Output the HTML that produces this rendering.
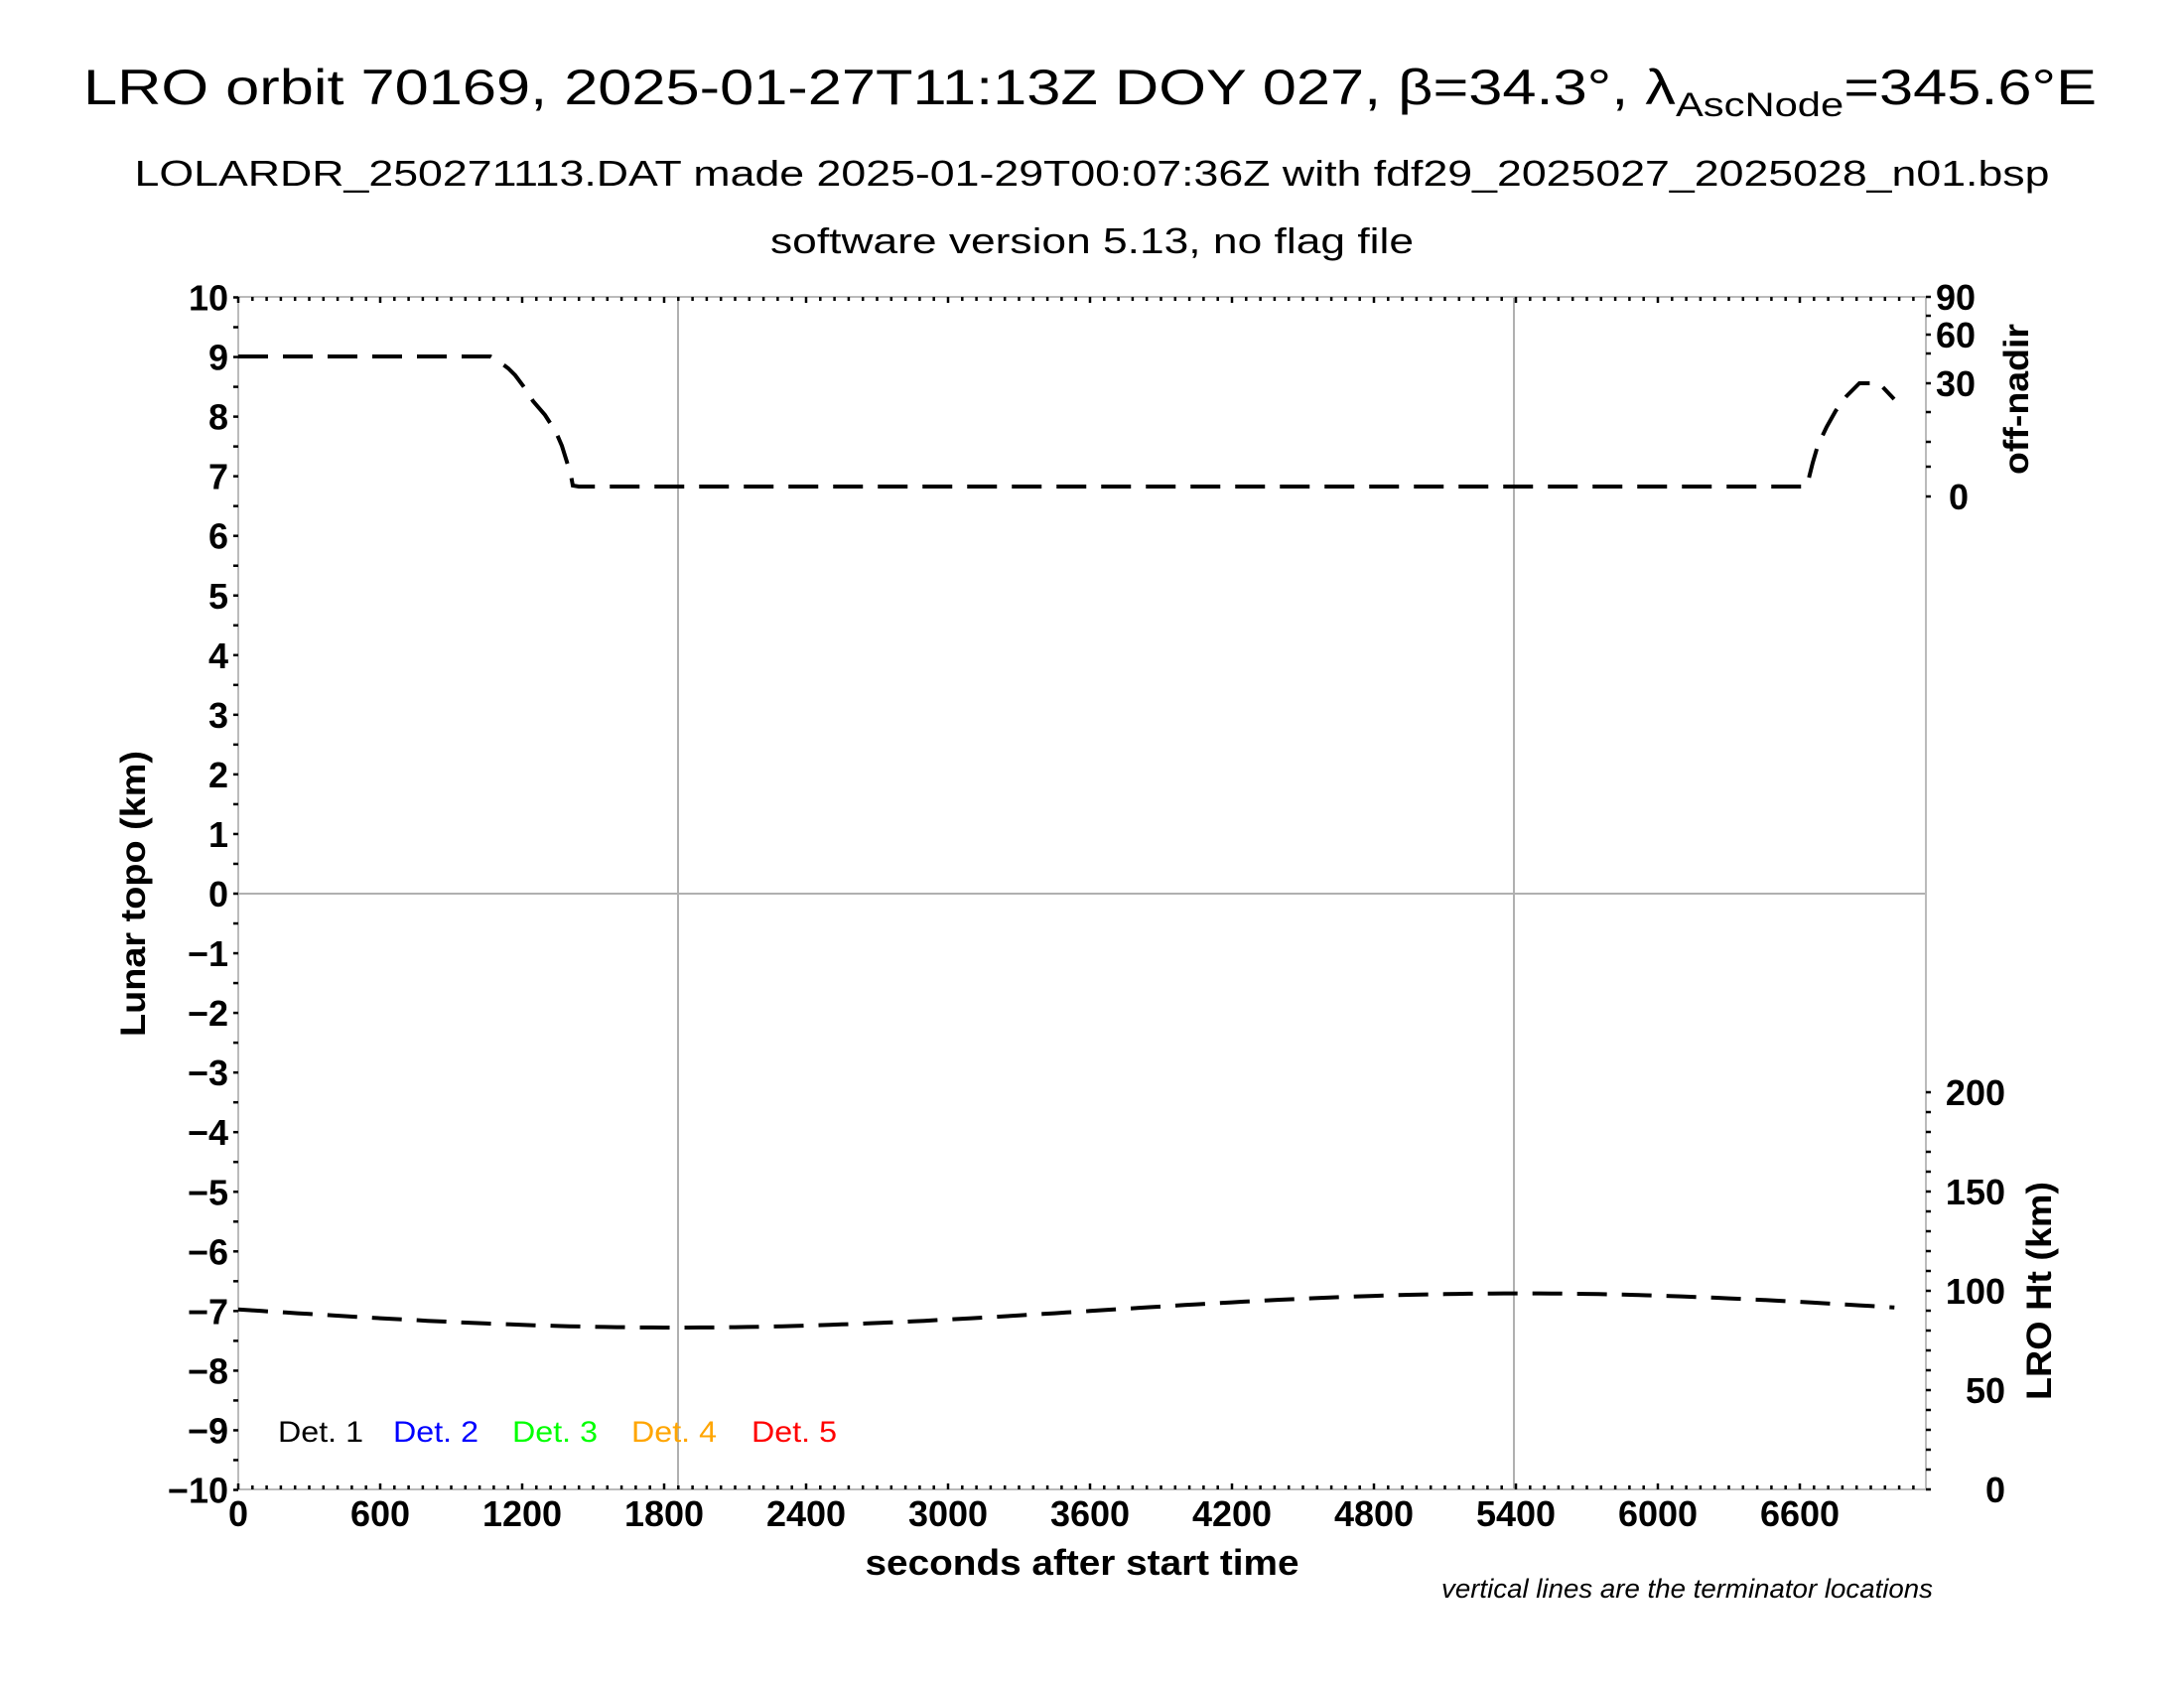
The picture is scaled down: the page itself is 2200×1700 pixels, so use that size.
<!DOCTYPE html>
<html><head><meta charset="utf-8"><style>
html,body{margin:0;padding:0;background:#fff;}
svg{display:block;font-family:"Liberation Sans",sans-serif;}
</style></head><body>
<svg id="s" width="2200" height="1700" viewBox="0 0 2200 1700" xmlns="http://www.w3.org/2000/svg">
<rect width="2200" height="1700" fill="#fff"/>
<text x="1098" y="105" font-size="50" text-anchor="middle" textLength="2028" lengthAdjust="spacingAndGlyphs">LRO orbit 70169, 2025-01-27T11:13Z DOY 027, β=34.3°, λ<tspan font-size="34" dy="12">AscNode</tspan><tspan dy="-12">=345.6°E</tspan></text>
<text x="1100" y="187" font-size="36" text-anchor="middle" textLength="1929" lengthAdjust="spacingAndGlyphs">LOLARDR_250271113.DAT made 2025-01-29T00:07:36Z with fdf29_2025027_2025028_n01.bsp</text>
<text x="1100" y="255" font-size="36" text-anchor="middle" textLength="648" lengthAdjust="spacingAndGlyphs">software version 5.13, no flag file</text>
<g id="g"></g>
<g fill="none" stroke="#000" stroke-width="4" stroke-dasharray="30,15">
<polyline points="240,359 494,359 504,365 512,371 519,378 528,390 537,404 549,418 560,435 566,449 571,465 575,478 577,489 583,490 1820,490 1826,466 1831,449 1840,430 1849,414 1860,399 1873,386 1893,386 1908,402"/>
<polyline id="h" points=""/>
</g>
<g font-size="30">
<text x="280" y="1452" textLength="86" lengthAdjust="spacingAndGlyphs">Det. 1</text>
<text x="396" y="1452" fill="#0000ff" textLength="86" lengthAdjust="spacingAndGlyphs">Det. 2</text>
<text x="516" y="1452" fill="#00ff00" textLength="86" lengthAdjust="spacingAndGlyphs">Det. 3</text>
<text x="636" y="1452" fill="#ffa500" textLength="86" lengthAdjust="spacingAndGlyphs">Det. 4</text>
<text x="757" y="1452" fill="#ff0000" textLength="86" lengthAdjust="spacingAndGlyphs">Det. 5</text>
</g>
<text x="1090" y="1586" font-size="36" font-weight="bold" text-anchor="middle" textLength="437" lengthAdjust="spacingAndGlyphs">seconds after start time</text>
<text x="1947" y="1609" font-size="27" font-style="italic" text-anchor="end" textLength="495" lengthAdjust="spacingAndGlyphs">vertical lines are the terminator locations</text>
<text transform="translate(146,900) rotate(-90)" font-size="35" font-weight="bold" text-anchor="middle" textLength="288" lengthAdjust="spacingAndGlyphs">Lunar topo (km)</text>
<text transform="translate(2043,402) rotate(-90)" font-size="35" font-weight="bold" text-anchor="middle" textLength="152" lengthAdjust="spacingAndGlyphs">off-nadir</text>
<text transform="translate(2066,1300) rotate(-90)" font-size="35" font-weight="bold" text-anchor="middle" textLength="220" lengthAdjust="spacingAndGlyphs">LRO Ht (km)</text>
</svg>
<script>
var NS="http://www.w3.org/2000/svg",g=document.getElementById('g');
function el(t,a,txt){var e=document.createElementNS(NS,t);for(var k in a)e.setAttribute(k,a[k]);if(txt!=null)e.textContent=txt;g.appendChild(e);return e;}
var L=240,R=1940,T=299,B=1500,px=143/600;
function X(s){return L+s*px;}
function Y(v){return 900-v*60.05;}
el('line',{x1:L,y1:900,x2:R,y2:900,stroke:'#b0b0b0','stroke-width':2});
[683,1525].forEach(function(x){el('line',{x1:x,y1:T,x2:x,y2:B,stroke:'#b0b0b0','stroke-width':2});});
el('line',{x1:L,y1:T,x2:R,y2:T,stroke:'#bbb','stroke-width':2});
el('line',{x1:L,y1:B,x2:R,y2:B,stroke:'#bbb','stroke-width':2});
el('line',{x1:L,y1:T,x2:L,y2:B,stroke:'#bbb','stroke-width':2});
el('line',{x1:R,y1:T,x2:R,y2:B,stroke:'#bbb','stroke-width':2});
for(var s=0;s<=7100;s+=60){var x=X(s);if(x>R)break;var maj=s%600==0;
 el('line',{x1:x,y1:B,x2:x,y2:B-(maj?6:4),stroke:'#000','stroke-width':2.5});
 el('line',{x1:x,y1:T,x2:x,y2:T+(maj?6:4),stroke:'#000','stroke-width':2.5});
 if(maj)el('text',{x:x,y:1537,'font-size':36,'font-weight':'bold','text-anchor':'middle'},''+s);}
for(var v=-10;v<=10;v+=0.5){var y=Y(v);el('line',{x1:L-5,y1:y,x2:L,y2:y,stroke:'#000','stroke-width':2.5});
 if(v==Math.round(v))el('text',{x:230,y:y+13,'font-size':36,'font-weight':'bold','text-anchor':'end'},(v<0?'\u2212'+(-v):''+v));}
var on={0:500,30:386,60:337,90:299};
[299,318,337,356,386,415,445,470,500].forEach(function(y){el('line',{x1:R,y1:y,x2:R+5,y2:y,stroke:'#000','stroke-width':2.5});});
for(var k in on)el('text',{x:k=='0'?1963:1950,y:on[k]+13,'font-size':36,'font-weight':'bold'},k);
for(var h=0;h<=200;h+=10){var y=1500-h*2;el('line',{x1:R,y1:y,x2:R+5,y2:y,stroke:'#000','stroke-width':2.5});
 if(h%50==0)el('text',{x:2020,y:y+13,'font-size':36,'font-weight':'bold','text-anchor':'end'},''+h);}
var p=[];for(var t=0;t<=7000;t+=50){var hh=90.1-8.6*Math.cos(2*Math.PI*(t-1850)/7133);p.push(X(t).toFixed(1)+','+(1500-hh*2).toFixed(1));}
document.getElementById('h').setAttribute('points',p.join(' '));
</script>
</body></html>
